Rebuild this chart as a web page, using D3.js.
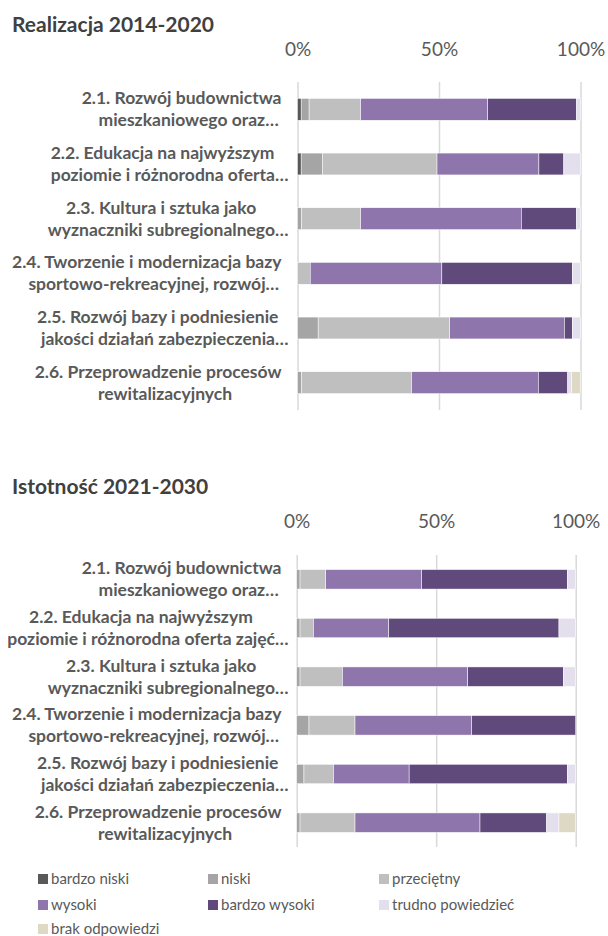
<!DOCTYPE html>
<html>
<head>
<meta charset="utf-8">
<script src="https://cdn.jsdelivr.net/npm/d3@7"></script>
<style>
  body { margin: 0; background: #fff; }
  svg { display: block; font-family: Lato, "Open Sans", sans-serif; }
</style>
</head>
<body>
<svg id="chart" width="608" height="936"></svg>
<script>
// answer categories (legend order = stacking order)
var seriesNames = ["bardzo niski", "niski", "przeciętny", "wysoki", "bardzo wysoki", "trudno powiedzieć", "brak odpowiedzi"];
var seriesColors = ["#595959", "#a5a5a5", "#bfbfbf", "#8e75ab", "#604a7b", "#e4dfec", "#ddd9c4"];

var labelsRealizacja = [
  ["2.1. Rozwój budownictwa", "mieszkaniowego oraz…"],
  ["2.2. Edukacja na najwyższym", "poziomie i różnorodna oferta…"],
  ["2.3. Kultura i sztuka jako", "wyznaczniki subregionalnego…"],
  ["2.4. Tworzenie i modernizacja bazy", "sportowo-rekreacyjnej, rozwój…"],
  ["2.5. Rozwój bazy i podniesienie", "jakości działań zabezpieczenia…"],
  ["2.6. Przeprowadzenie procesów", "rewitalizacyjnych"]
];
var labelsIstotnosc = [
  ["2.1. Rozwój budownictwa", "mieszkaniowego oraz…"],
  ["2.2. Edukacja na najwyższym", "poziomie i różnorodna oferta zajęć…"],
  ["2.3. Kultura i sztuka jako", "wyznaczniki subregionalnego…"],
  ["2.4. Tworzenie i modernizacja bazy", "sportowo-rekreacyjnej, rozwój…"],
  ["2.5. Rozwój bazy i podniesienie", "jakości działań zabezpieczenia…"],
  ["2.6. Przeprowadzenie procesów", "rewitalizacyjnych"]
];

// percentages per category, in seriesNames order
var realizacja = [
  [1.3, 2.8, 18.2, 44.9, 31.4, 1.4, 0],
  [1.3, 7.5, 40.5, 36.0, 8.8, 5.9, 0],
  [0, 1.4, 20.9, 56.8, 19.5, 1.4, 0],
  [0, 0, 4.5, 46.5, 46.1, 2.9, 0],
  [0, 7.3, 46.5, 40.5, 2.8, 2.9, 0],
  [0, 1.4, 38.9, 44.8, 10.4, 1.4, 3.1]
];
var istotnosc = [
  [0, 1.2, 9.2, 34.4, 52.2, 3.0, 0],
  [0, 1.2, 4.8, 27.0, 61.0, 6.0, 0],
  [0, 1.2, 15.2, 44.9, 34.3, 4.4, 0],
  [0, 4.4, 16.5, 41.8, 37.3, 0, 0],
  [0, 2.6, 10.6, 27.1, 56.7, 3.0, 0],
  [0, 1.2, 19.7, 44.8, 23.9, 4.4, 6.0]
];
var tickValues = [0, 0.5, 1];

var svg = d3.select("#chart");
var color = d3.scaleOrdinal().domain(seriesNames).range(seriesColors);

function drawChart(title, labels, values, box) {
  var g = svg.append("g");

  g.append("text")
    .attr("x", 12).attr("y", box.titleY)
    .attr("dy", "0.35em")
    .attr("font-size", 21).attr("font-weight", "bold")
    .attr("fill", "#404040")
    .text(title);

  var rows = values.map(function(v, i) {
    var r = { idx: i };
    seriesNames.forEach(function(s, j) { r[s] = v[j]; });
    return r;
  });

  var x = d3.scaleLinear().domain([0, 1]).range([box.x0, box.x1]);
  var y = d3.scaleBand().domain(d3.range(labels.length))
    .range([box.y0, box.y1]).paddingInner(0.6).paddingOuter(0.3);

  // grid + tick labels
  var axis = g.append("g")
    .attr("transform", "translate(0," + box.y0 + ")")
    .call(d3.axisTop(x).tickValues(tickValues).tickFormat(d3.format(".0%"))
      .tickSize(-(box.y1 - box.y0)).tickPadding(box.y0 - box.tickY - 6));
  axis.select(".domain").remove();
  axis.selectAll("line").attr("stroke", "#d9d9d9").attr("stroke-width", 1.5);
  axis.selectAll("text")
    .attr("font-size", 19).attr("fill", "#595959")
    .attr("font-family", "Lato, sans-serif");

  var stack = d3.stack().keys(seriesNames).offset(d3.stackOffsetExpand);
  var layers = stack(rows);

  g.append("g").selectAll("g")
    .data(layers)
    .enter()
    .append("g")
    .attr("fill", function(d) { return color(d.key); })
    .selectAll("rect")
    .data(function(d) { return d; })
    .enter()
    .append("rect")
    .attr("x", function(d) { return x(d[0]); })
    .attr("y", function(d) { return y(d.data.idx); })
    .attr("width", function(d) { return Math.max(0, x(d[1]) - x(d[0])); })
    .attr("height", y.bandwidth())
    .attr("stroke", "#fff")
    .attr("stroke-width", 0.5);

  // category labels, two centred lines per bar
  labels.forEach(function(lines, i) {
    var cy = y(i) + y.bandwidth() / 2;
    var t = g.append("text")
      .attr("font-size", 17.5).attr("font-weight", "bold")
      .attr("fill", "#595959")
      .attr("text-anchor", "middle");
    t.selectAll("tspan")
      .data(lines)
      .enter()
      .append("tspan")
      .attr("y", function(d, k) { return cy + (k - 0.5) * 22; })
      .attr("dy", "0.35em")
      .text(function(d) { return d; });
    var widest = d3.max(t.selectAll("tspan").nodes(), function(n) { return n.getComputedTextLength(); });
    t.selectAll("tspan").attr("x", function(d, k) {
      return box.labelRight - widest / 2 + (k === 0 ? -3.5 : 3.5);
    });
  });
}

drawChart("Realizacja 2014-2020", labelsRealizacja, realizacja,
  { titleY: 25, tickY: 50, x0: 297.5, x1: 580.5, y0: 82, y1: 410, labelRight: 285 });
drawChart("Istotność 2021-2030", labelsIstotnosc, istotnosc,
  { titleY: 487, tickY: 522, x0: 296.7, x1: 575.7, y0: 555, y1: 847, labelRight: 285 });

// legend
var legendCols = [38, 208, 379];
var legendRows = [879, 905, 929];
var legend = svg.append("g").selectAll("g")
  .data(seriesNames)
  .enter()
  .append("g")
  .attr("transform", function(d, i) {
    return "translate(" + legendCols[i % 3] + "," + legendRows[Math.floor(i / 3)] + ")";
  });
legend.append("rect")
  .attr("x", 0).attr("y", -5)
  .attr("width", 10).attr("height", 10)
  .attr("fill", function(d) { return color(d); });
legend.append("text")
  .attr("x", 13).attr("dy", "0.35em")
  .attr("font-size", 15).attr("fill", "#595959")
  .text(function(d) { return d; });
</script>
</body>
</html>
